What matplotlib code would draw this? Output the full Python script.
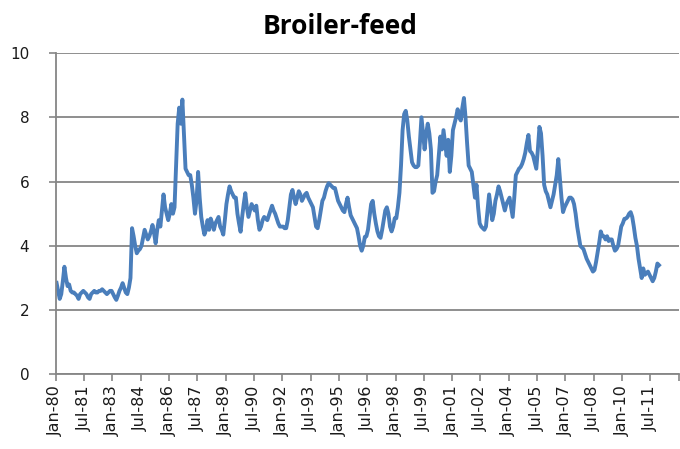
import numpy as np
import pandas as pd
import matplotlib
matplotlib.use("Agg")
import matplotlib.pyplot as plt
import matplotlib.transforms as mtransforms

# broiler-feed price ratio, monthly
feed_1980s = [
    2.85, 2.6, 2.35, 2.5, 2.9, 3.35, 3.0, 2.75, 2.8, 2.6, 2.55, 2.55,
    2.5, 2.45, 2.35, 2.5, 2.55, 2.6, 2.55, 2.5, 2.4, 2.35, 2.5, 2.55,
    2.6, 2.55, 2.55, 2.6, 2.6, 2.65, 2.6, 2.55, 2.5, 2.55, 2.6, 2.6,
    2.5, 2.4, 2.32, 2.45, 2.6, 2.7, 2.84, 2.7, 2.55, 2.5, 2.7, 3.0,
    4.55, 4.3, 4.0, 3.77, 3.85, 3.9, 4.0, 4.25, 4.5, 4.35, 4.2, 4.3,
    4.45, 4.65, 4.4, 4.08, 4.5, 4.8, 4.6, 5.1, 5.6, 5.2, 5.0, 4.8,
    5.0, 5.3, 5.0, 5.2, 6.5, 7.8, 8.3, 7.8, 8.55, 7.5, 6.4, 6.3,
    6.2, 6.2, 5.9, 5.5, 5.0, 5.4, 6.3, 5.5, 4.9, 4.6, 4.35, 4.5,
    4.8, 4.5, 4.85, 4.7, 4.5, 4.7, 4.8, 4.9, 4.6, 4.5, 4.35, 4.8,
    5.3, 5.6, 5.85, 5.7, 5.6, 5.5, 5.5, 5.0, 4.7, 4.44, 4.9, 5.3,
]
feed_1990s = [
    5.64, 5.2, 4.9, 5.1, 5.3, 5.2, 5.1, 5.25, 4.8, 4.5, 4.6, 4.8,
    4.9, 4.85, 4.8, 4.95, 5.1, 5.25, 5.1, 5.0, 4.85, 4.7, 4.6, 4.6,
    4.6, 4.55, 4.55, 4.8, 5.2, 5.6, 5.74, 5.5, 5.3, 5.5, 5.7, 5.6,
    5.4, 5.5, 5.6, 5.65, 5.5, 5.4, 5.3, 5.2, 4.9, 4.6, 4.55, 4.8,
    5.1, 5.4, 5.5, 5.7, 5.85, 5.95, 5.9, 5.85, 5.8, 5.8, 5.6, 5.4,
    5.3, 5.2, 5.1, 5.05, 5.3, 5.5, 5.2, 4.95, 4.85, 4.75, 4.65, 4.55,
    4.3, 4.0, 3.85, 4.0, 4.28, 4.3, 4.5, 4.9, 5.3, 5.4, 5.0, 4.7,
    4.45, 4.3, 4.25, 4.5, 4.8, 5.1, 5.2, 5.0, 4.6, 4.45, 4.6, 4.86,
    4.86, 5.2, 5.65, 6.5, 7.6, 8.1, 8.2, 7.9, 7.4, 7.0, 6.6, 6.5,
    6.45, 6.45, 6.5, 7.2, 8.0, 7.5, 7.0, 7.5, 7.8, 7.5, 7.0, 5.65,
]
feed_2000s = [
    5.7, 6.0, 6.2, 6.8, 7.4, 7.0, 7.6, 7.2, 6.8, 7.3, 6.3, 6.8,
    7.6, 7.8, 8.0, 8.25, 8.0, 7.9, 8.3, 8.6, 8.0, 7.2, 6.5, 6.4,
    6.3, 5.9, 5.5, 5.9, 5.2, 4.7, 4.6, 4.55, 4.5, 4.6, 5.1, 5.6,
    5.2, 4.8, 5.0, 5.4, 5.6, 5.85, 5.7, 5.5, 5.3, 5.1, 5.3, 5.4,
    5.5, 5.2, 4.9, 5.5, 6.2, 6.3, 6.4, 6.45, 6.55, 6.7, 6.9, 7.2,
    7.45, 6.95, 6.9, 6.8, 6.6, 6.4, 7.0, 7.7, 7.5, 6.8, 5.9, 5.7,
    5.6, 5.4, 5.2, 5.4, 5.6, 5.9, 6.2, 6.7, 6.1, 5.5, 5.05, 5.2,
    5.3, 5.4, 5.5, 5.5, 5.45, 5.3, 5.0, 4.6, 4.3, 4.0, 3.95, 3.9,
    3.75, 3.6, 3.5, 3.4, 3.3, 3.2, 3.25, 3.5, 3.8, 4.1, 4.45, 4.3,
    4.3, 4.2, 4.3, 4.15, 4.2, 4.2, 4.0, 3.85, 3.9, 4.0, 4.3, 4.6,
]
feed_2010s = [
    4.7, 4.84, 4.85, 4.9, 5.0, 5.05, 4.9, 4.6, 4.25, 4.0, 3.6, 3.3,
    3.0, 3.3, 3.1, 3.15, 3.2, 3.1, 3.0, 2.9, 3.0, 3.2, 3.45, 3.4,
]

n_months = 396          # category axis runs Jan-80 .. Dec-12
label_step = 18
y_ticks = [0, 2, 4, 6, 8, 10]

values = np.array(feed_1980s + feed_1990s + feed_2000s + feed_2010s)
months = pd.date_range("1980-01-01", periods=n_months, freq="MS")
month_labels = months.strftime("%b-%y")

fig = plt.figure(figsize=(6.8, 4.49), dpi=100)
ax = fig.add_axes([0.082, 0.166, 0.916, 0.716])

x = np.arange(len(values)) + 0.5
ax.plot(x, values, color="#4a7ebb", linewidth=2.8, solid_joinstyle="round")

ax.set_xlim(0, n_months)
ax.set_ylim(0, 10)
ax.set_yticks(y_ticks)
ax.set_yticklabels([str(v) for v in y_ticks], fontsize=11, color="#1a1a1a")
ax.yaxis.grid(True, color="#868686", linewidth=1.3)
ax.set_axisbelow(True)

tick_pos = list(range(0, n_months + 1, label_step))
ax.set_xticks(tick_pos)
ax.set_xticklabels([month_labels[i] if i < n_months else "" for i in tick_pos],
                   rotation=90, fontsize=11.5, color="#1a1a1a")
offset = mtransforms.ScaledTranslation(4 / 100, 0, fig.dpi_scale_trans)
for lab in ax.get_xticklabels():
    lab.set_transform(lab.get_transform() + offset)

for side in ["top", "right"]:
    ax.spines[side].set_visible(False)
for side in ["left", "bottom"]:
    ax.spines[side].set_color("#868686")
    ax.spines[side].set_linewidth(1.3)
ax.tick_params(axis="both", color="#868686", width=1.2, length=5, direction="out")
ax.tick_params(axis="y", pad=14)
ax.tick_params(axis="x", pad=3)

fig.text(0.5, 0.94, "Broiler-feed", ha="center", va="center",
         fontsize=19, fontweight="bold",
         family=["Liberation Sans Narrow", "Open Sans", "DejaVu Sans"])

fig.savefig("out.png", dpi=100)
